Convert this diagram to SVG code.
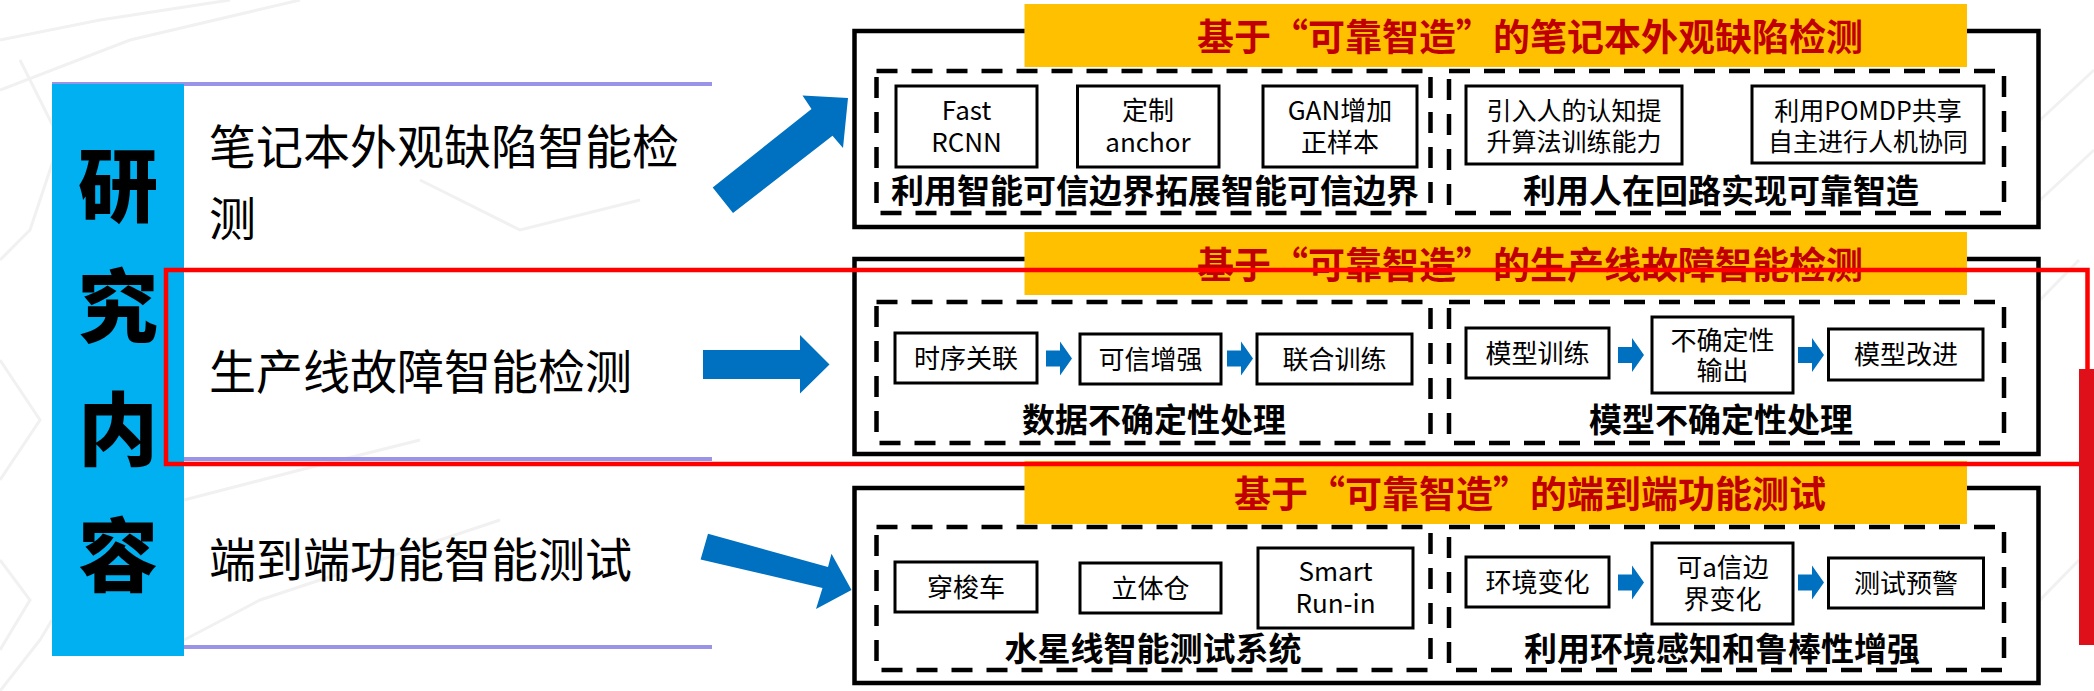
<svg xmlns="http://www.w3.org/2000/svg" width="2094" height="691" viewBox="0 0 2094 691">
<style>
.cjk{font-family:"Noto Sans CJK SC","Liberation Sans",sans-serif}
.big{font-size:80px;font-weight:900;fill:#000;text-anchor:middle}
.lt{font-size:47px;fill:#000}
.title{font-size:37px;font-weight:700;fill:#C00000;text-anchor:middle}
.lbl{font-size:33px;font-weight:700;fill:#000;text-anchor:middle}
.bt{font-size:26px;fill:#000;text-anchor:middle}
.yel{fill:#FFC000}
.outer{fill:none;stroke:#000;stroke-width:4.5}
.dash{fill:none;stroke:#000;stroke-width:4.5;stroke-dasharray:21 14}
.ibox{fill:#fff;stroke:#000;stroke-width:3}
.arr{fill:#0070C0}
.pl{stroke:#9A94E8;stroke-width:4}
.bg{fill:none;stroke:#F1F1F1;stroke-width:3}
</style>
<defs>
<path id="sa" d="M0,-8 H14 V-17 L26,0 L14,17 V8 H0 Z" class="arr"/>
</defs>
<rect width="2094" height="691" fill="#fff"/>

<g id="background">
<polyline class="bg" points="0,40 100,20 230,0"/>
<polyline class="bg" points="0,90 130,40 300,0"/>
<polyline class="bg" points="20,60 60,140 30,230 0,260"/>
<polyline class="bg" points="0,360 40,420 0,480"/>
<polyline class="bg" points="0,560 30,600 0,650"/>
<polyline class="bg" points="0,691 40,640 52,620"/>
<polyline class="bg" points="184,640 260,600 380,560 500,520"/>
<polyline class="bg" points="184,500 300,470 420,440"/>
<polyline class="bg" points="420,180 520,230 640,200"/>
<polyline class="bg" points="2040,200 2094,150"/>
<polyline class="bg" points="2040,120 2094,70"/>
<polyline class="bg" points="2040,300 2079,260"/>
<polyline class="bg" points="2040,600 2079,560"/>
</g>

<g id="left-panel">
<line class="pl" x1="52" y1="84" x2="712" y2="84"/>
<line class="pl" x1="184" y1="459" x2="712" y2="459"/>
<line class="pl" x1="184" y1="647" x2="712" y2="647"/>
<rect x="52" y="84" width="132" height="572" fill="#00B0F0"/>
<text class="cjk big" x="118" y="215">研</text>
<text class="cjk big" x="118" y="336">究</text>
<text class="cjk big" x="118" y="459">内</text>
<text class="cjk big" x="118" y="585">容</text>
</g>

<g id="item1"><text class="cjk lt" x="209" y="164">笔记本外观缺陷智能检</text><text class="cjk lt" x="209" y="236">测</text></g>
<g id="item2"><text class="cjk lt" x="209" y="389">生产线故障智能检测</text></g>
<g id="item3"><text class="cjk lt" x="209" y="577">端到端功能智能测试</text></g>

<g id="connectors">
<polygon class="arr" points="712.7,187.4 811.5,109 802.5,95.6 848,98 843,148 832.5,135.8 733,213"/>
<polygon class="arr" points="703,350 800,350 800,335 829.5,364.5 800,393.5 800,379 703,379"/>
<polygon class="arr" points="700.6,559.4 708,533.8 828,567 831.5,553.7 851.5,590 816,609 822.5,588"/>
</g>

<g id="row1">
<rect class="yel" x="1024.5" y="4" width="942.5" height="63"/>
<text class="cjk title" x="1530" y="51">基于“可靠智造”的笔记本外观缺陷检测</text>
<path class="outer" d="M1024.5,31 H854.5 V227 H2038.5 V31 H1967"/>
<rect class="dash" x="876.5" y="71" width="554" height="142"/>
<rect class="dash" x="1449" y="71" width="555" height="142"/>
<g id="n-fastrcnn"><rect class="ibox" x="896" y="86" width="141" height="81"/><text class="cjk bt" x="966.5" y="120">Fast</text><text class="cjk bt" x="966.5" y="152">RCNN</text></g>
<g id="n-anchor"><rect class="ibox" x="1077.5" y="86" width="141.5" height="81"/><text class="cjk bt" x="1148" y="120">定制</text><text class="cjk bt" x="1148" y="152">anchor</text></g>
<g id="n-gan"><rect class="ibox" x="1263" y="86" width="154" height="81"/><text class="cjk bt" x="1340" y="120">GAN增加</text><text class="cjk bt" x="1340" y="152">正样本</text></g>
<g id="n-cog"><rect class="ibox" x="1466" y="86" width="216" height="78"/><text class="cjk bt" x="1574" y="120" style="font-size:25px">引入人的认知提</text><text class="cjk bt" x="1574" y="151" style="font-size:25px">升算法训练能力</text></g>
<g id="n-pomdp"><rect class="ibox" x="1752" y="86" width="232" height="77"/><text class="cjk bt" x="1868" y="120" style="font-size:25px">利用POMDP共享</text><text class="cjk bt" x="1868" y="151" style="font-size:25px">自主进行人机协同</text></g>
<text class="cjk lbl" x="1155" y="203">利用智能可信边界拓展智能可信边界</text>
<text class="cjk lbl" x="1721" y="203">利用人在回路实现可靠智造</text>
</g>

<g id="row2">
<rect class="yel" x="1024.5" y="232" width="942.5" height="63"/>
<text class="cjk title" x="1530" y="279">基于“可靠智造”的生产线故障智能检测</text>
<path class="outer" d="M1024.5,259 H854.5 V454 H2038.5 V259 H1967"/>
<rect class="dash" x="876.5" y="302" width="554" height="141"/>
<rect class="dash" x="1449" y="302" width="555" height="141"/>
<g id="n-sxgl"><rect class="ibox" x="895" y="333" width="142" height="50"/><text class="cjk bt" x="966" y="368">时序关联</text></g>
<g id="n-kxzq"><rect class="ibox" x="1080" y="334" width="141" height="50"/><text class="cjk bt" x="1150.5" y="369">可信增强</text></g>
<g id="n-lhxl"><rect class="ibox" x="1257" y="334" width="155" height="50"/><text class="cjk bt" x="1334.5" y="369">联合训练</text></g>
<g id="n-mxxl"><rect class="ibox" x="1466" y="328" width="143" height="50"/><text class="cjk bt" x="1537.5" y="363">模型训练</text></g>
<g id="n-bqdx"><rect class="ibox" x="1652" y="317" width="141" height="76"/><text class="cjk bt" x="1722.5" y="350">不确定性</text><text class="cjk bt" x="1722.5" y="380">输出</text></g>
<g id="n-mxgj"><rect class="ibox" x="1828.5" y="329" width="154.5" height="51"/><text class="cjk bt" x="1906" y="364">模型改进</text></g>
<text class="cjk lbl" x="1154" y="432">数据不确定性处理</text>
<text class="cjk lbl" x="1721" y="432">模型不确定性处理</text>
</g>

<g id="row3">
<rect class="yel" x="1024.5" y="461" width="942.5" height="63"/>
<text class="cjk title" x="1530" y="508">基于“可靠智造”的端到端功能测试</text>
<path class="outer" d="M1024.5,488 H854.5 V683 H2038.5 V488 H1967"/>
<rect class="dash" x="876.5" y="527" width="554" height="143"/>
<rect class="dash" x="1449" y="527" width="555" height="143"/>
<g id="n-csc"><rect class="ibox" x="895" y="562" width="142" height="50"/><text class="cjk bt" x="966" y="597">穿梭车</text></g>
<g id="n-ltc"><rect class="ibox" x="1080" y="563" width="141" height="50"/><text class="cjk bt" x="1150.5" y="598">立体仓</text></g>
<g id="n-smart"><rect class="ibox" x="1258" y="548" width="155" height="80"/><text class="cjk bt" x="1335.5" y="581">Smart</text><text class="cjk bt" x="1335.5" y="613">Run-in</text></g>
<g id="n-hjbh"><rect class="ibox" x="1466" y="557" width="143" height="50"/><text class="cjk bt" x="1537.5" y="592">环境变化</text></g>
<g id="n-kaxb"><rect class="ibox" x="1652" y="543" width="141" height="81"/><text class="cjk bt" x="1722.5" y="577">可a信边</text><text class="cjk bt" x="1722.5" y="609">界变化</text></g>
<g id="n-csyj"><rect class="ibox" x="1828.5" y="558" width="155" height="50"/><text class="cjk bt" x="1906" y="593">测试预警</text></g>
<text class="cjk lbl" x="1153" y="661">水星线智能测试系统</text>
<text class="cjk lbl" x="1722" y="661">利用环境感知和鲁棒性增强</text>
</g>

<g id="flow-arrows">
<use href="#sa" x="1046" y="358.6"/>
<use href="#sa" x="1227" y="358.6"/>
<use href="#sa" x="1618" y="355"/>
<use href="#sa" x="1798" y="355"/>
<use href="#sa" x="1618" y="582.6"/>
<use href="#sa" x="1798" y="582.6"/>
</g>

<g id="highlight">
<rect x="166" y="270" width="1921.5" height="194" fill="none" stroke="#FF0000" stroke-width="4.5"/>
<rect x="2079" y="369" width="15" height="276" fill="#E0101A"/>
</g>
</svg>
